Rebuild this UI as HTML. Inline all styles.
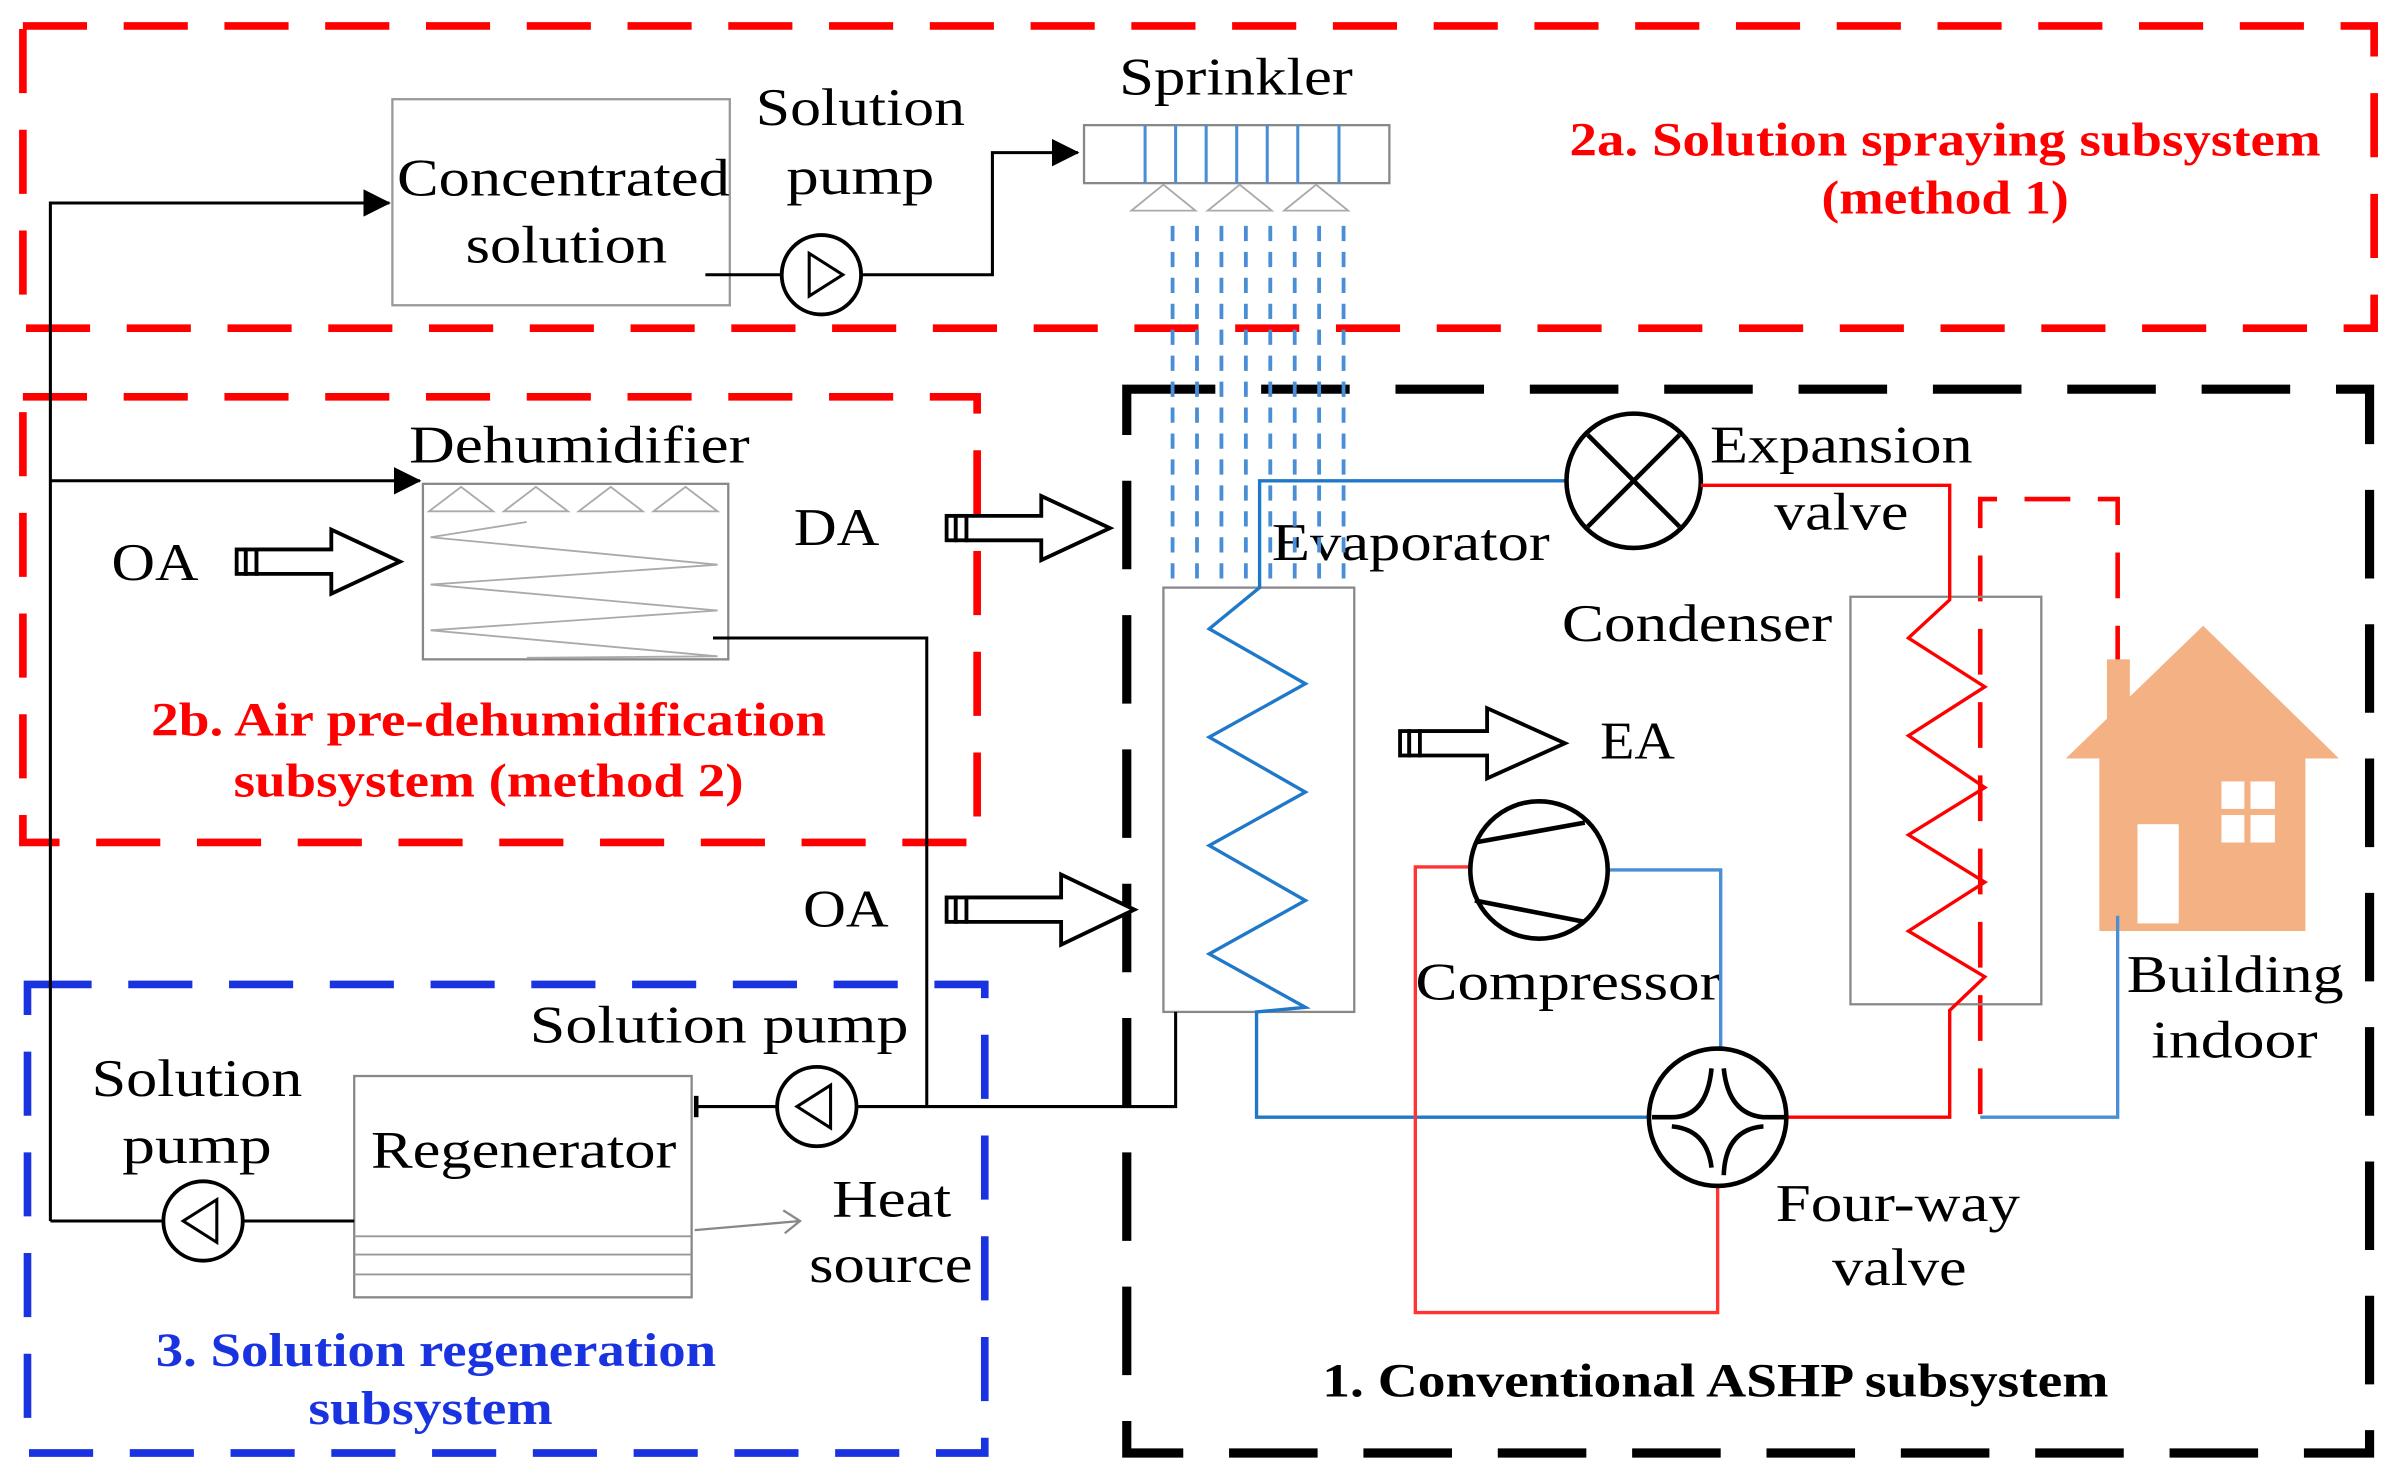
<!DOCTYPE html>
<html><head><meta charset="utf-8"><style>
html,body{margin:0;padding:0;background:#fff;}
svg{display:block;}
text{font-family:"Liberation Serif",serif;}
</style></head><body>
<svg width="2394" height="1482" viewBox="0 0 1568 971" preserveAspectRatio="none" xmlns="http://www.w3.org/2000/svg">
<defs>
<marker id="ah" markerWidth="18" markerHeight="18" refX="17" refY="9" orient="auto" markerUnits="userSpaceOnUse"><path d="M0,0 L18,9 L0,18 Z" fill="#000"/></marker>
</defs>
<rect width="1568" height="971" fill="#fff"/>
<rect x="15" y="17" width="1540" height="198" fill="none" stroke="#f00" stroke-width="5" stroke-dasharray="42,24"/>
<rect x="15" y="260" width="625" height="292" fill="none" stroke="#f00" stroke-width="5" stroke-dasharray="42,24"/>
<rect x="18" y="645" width="627" height="307" fill="none" stroke="#1a33e0" stroke-width="5" stroke-dasharray="42,24"/>
<rect x="738" y="255" width="814" height="697" fill="none" stroke="#000" stroke-width="6" stroke-dasharray="58,30"/>
<path d="M1297,730 L1297,327 L1387,327 L1387,445" fill="none" stroke="#f00" stroke-width="3" stroke-dasharray="30,18"/>
<path d="M33,800 L33,133 L255,133" fill="none" stroke="#000" stroke-width="2" marker-end="url(#ah)"/>
<path d="M33,315 L275,315" fill="none" stroke="#000" stroke-width="2" marker-end="url(#ah)"/>
<rect x="257" y="65" width="221" height="135" fill="none" stroke="#999" stroke-width="1.5"/>
<g font-size="35" lengthAdjust="spacingAndGlyphs">
<text x="260" y="128" textLength="218" lengthAdjust="spacingAndGlyphs">Concentrated</text>
<text x="305" y="172" textLength="132" lengthAdjust="spacingAndGlyphs">solution</text>
<text x="495" y="82" textLength="137" lengthAdjust="spacingAndGlyphs">Solution</text>
<text x="515" y="127" textLength="97" lengthAdjust="spacingAndGlyphs">pump</text>
<text x="733" y="62" textLength="153" lengthAdjust="spacingAndGlyphs">Sprinkler</text>
<text x="268" y="303" textLength="223" lengthAdjust="spacingAndGlyphs">Dehumidifier</text>
<text x="73" y="380" textLength="57" lengthAdjust="spacingAndGlyphs">OA</text>
<text x="520" y="357" textLength="56" lengthAdjust="spacingAndGlyphs">DA</text>
<text x="526" y="607" textLength="56" lengthAdjust="spacingAndGlyphs">OA</text>
<text x="1048" y="497" textLength="49" lengthAdjust="spacingAndGlyphs">EA</text>
<text x="833" y="367" textLength="182" lengthAdjust="spacingAndGlyphs">Evaporator</text>
<text x="1120" y="303" textLength="172" lengthAdjust="spacingAndGlyphs">Expansion</text>
<text x="1162" y="347" textLength="88" lengthAdjust="spacingAndGlyphs">valve</text>
<text x="1023" y="420" textLength="177" lengthAdjust="spacingAndGlyphs">Condenser</text>
<text x="927" y="655" textLength="200" lengthAdjust="spacingAndGlyphs">Compressor</text>
<text x="1163" y="800" textLength="160" lengthAdjust="spacingAndGlyphs">Four-way</text>
<text x="1200" y="842" textLength="88" lengthAdjust="spacingAndGlyphs">valve</text>
<text x="1393" y="650" textLength="142" lengthAdjust="spacingAndGlyphs">Building</text>
<text x="1409" y="693" textLength="109" lengthAdjust="spacingAndGlyphs">indoor</text>
<text x="347" y="683" textLength="248" lengthAdjust="spacingAndGlyphs">Solution pump</text>
<text x="60" y="718" textLength="138" lengthAdjust="spacingAndGlyphs">Solution</text>
<text x="80" y="762" textLength="98" lengthAdjust="spacingAndGlyphs">pump</text>
<text x="243" y="765" textLength="200" lengthAdjust="spacingAndGlyphs">Regenerator</text>
<text x="545" y="797" textLength="78" lengthAdjust="spacingAndGlyphs">Heat</text>
<text x="530" y="840" textLength="107" lengthAdjust="spacingAndGlyphs">source</text>
</g>
<g font-size="31" font-weight="bold">
<text x="1028" y="102" fill="#f00" textLength="492" lengthAdjust="spacingAndGlyphs">2a. Solution spraying subsystem</text>
<text x="1193" y="140" fill="#f00" textLength="162" lengthAdjust="spacingAndGlyphs">(method 1)</text>
<text x="99" y="482" fill="#f00" textLength="442" lengthAdjust="spacingAndGlyphs">2b. Air pre-dehumidification</text>
<text x="153" y="522" fill="#f00" textLength="334" lengthAdjust="spacingAndGlyphs">subsystem (method 2)</text>
<text x="102" y="895" fill="#1a33e0" textLength="367" lengthAdjust="spacingAndGlyphs">3. Solution regeneration</text>
<text x="202" y="933" fill="#1a33e0" textLength="160" lengthAdjust="spacingAndGlyphs">subsystem</text>
<text x="866" y="915" textLength="515" lengthAdjust="spacingAndGlyphs">1. Conventional ASHP subsystem</text>
</g>
<path d="M462,180 L512,180 M564,180 L650,180 L650,100 L706,100" fill="none" stroke="#000" stroke-width="2" marker-end="url(#ah)"/>
<circle cx="538" cy="180" r="26" fill="#fff" stroke="#000" stroke-width="2.5"/>
<path d="M530,166 L552,180 L530,194 Z" fill="none" stroke="#000" stroke-width="2"/>
<rect x="710" y="82" width="200" height="38" fill="none" stroke="#888" stroke-width="1.5"/>
<g stroke="#4a8fd6" stroke-width="2">
<line x1="750" y1="82" x2="750" y2="120"/><line x1="770" y1="82" x2="770" y2="120"/><line x1="790" y1="82" x2="790" y2="120"/><line x1="810" y1="82" x2="810" y2="120"/><line x1="830" y1="82" x2="830" y2="120"/><line x1="850" y1="82" x2="850" y2="120"/><line x1="877" y1="82" x2="877" y2="120"/>
</g>
<g fill="none" stroke="#aaa" stroke-width="1.2">
<path d="M741,138 L762,121 L783,138 Z"/><path d="M791,138 L812,121 L833,138 Z"/><path d="M841,138 L862,121 L883,138 Z"/>
</g>
<g stroke="#4a8fd6" stroke-width="2.5" stroke-dasharray="10,7">
<line x1="768" y1="148" x2="768" y2="385"/><line x1="784" y1="148" x2="784" y2="385"/><line x1="800" y1="148" x2="800" y2="385"/><line x1="816" y1="148" x2="816" y2="385"/><line x1="832" y1="148" x2="832" y2="385"/><line x1="848" y1="148" x2="848" y2="385"/><line x1="864" y1="148" x2="864" y2="385"/><line x1="880" y1="148" x2="880" y2="385"/>
</g>
<rect x="277" y="317" width="200" height="115" fill="#fff" stroke="#888" stroke-width="1.5"/>
<g fill="none" stroke="#aaa" stroke-width="1.2">
<path d="M281,335 L302,319 L323,335 Z"/><path d="M330,335 L351,319 L372,335 Z"/><path d="M379,335 L400,319 L421,335 Z"/><path d="M428,335 L449,319 L470,335 Z"/>
<path d="M345,342 L282,352 L470,370 L282,383 L470,400 L282,413 L470,430 L345,431"/>
</g>
<path d="M467,418 L607,418 L607,725" fill="none" stroke="#000" stroke-width="2"/>
<g fill="#fff" stroke="#000" stroke-width="2.5">
<g transform="translate(155,368)"><rect x="0" y="-8" width="6" height="16"/><rect x="6" y="-8" width="7" height="16"/><path d="M13,-8 L62,-8 L62,-21 L107,0 L62,21 L62,8 L13,8 Z"/></g>
<g transform="translate(620,346)"><rect x="0" y="-8" width="6" height="16"/><rect x="6" y="-8" width="7" height="16"/><path d="M13,-8 L62,-8 L62,-21 L107,0 L62,21 L62,8 L13,8 Z"/></g>
<g transform="translate(620,596)"><rect x="0" y="-8" width="6" height="16"/><rect x="6" y="-8" width="7" height="16"/><path d="M13,-8 L75,-8 L75,-23 L123,0 L75,23 L75,8 L13,8 Z"/></g>
<g transform="translate(917,487)"><rect x="0" y="-8" width="6" height="16"/><rect x="6" y="-8" width="7" height="16"/><path d="M13,-8 L57,-8 L57,-23 L108,0 L57,23 L57,8 L13,8 Z"/></g>
</g>
<rect x="762" y="385" width="125" height="278" fill="none" stroke="#888" stroke-width="1.5"/>
<path d="M1028,315 L825,315 L825,385 L792,412 L855,448 L792,483 L855,519 L792,554 L855,590 L792,625 L855,660 L823,663 L823,732 L1082,732" fill="none" stroke="#1f78c8" stroke-width="2.2"/>
<circle cx="1070" cy="315" r="44" fill="#fff" stroke="#000" stroke-width="3"/>
<path d="M1040,285 L1100,345 M1100,285 L1040,345" stroke="#000" stroke-width="3"/>
<rect x="1212" y="391" width="125" height="267" fill="none" stroke="#888" stroke-width="1.5"/>
<path d="M1114,318 L1277,318 L1277,393 L1250,418 L1300,450 L1250,482 L1300,516 L1250,547 L1300,578 L1250,610 L1300,640 L1277,662 L1277,732 L1170,732" fill="none" stroke="#f00" stroke-width="2.2"/>
<path d="M963,568 L927,568 L927,860 L1125,860 L1125,770" fill="none" stroke="#f33" stroke-width="2.2"/>
<path d="M1053,570 L1127,570 L1127,688" fill="none" stroke="#4a8fd6" stroke-width="2.2"/>
<circle cx="1008" cy="570" r="45" fill="#fff" stroke="#000" stroke-width="3"/>
<path d="M966,552 L1038,539 M966,590 L1038,604" stroke="#000" stroke-width="3"/>
<circle cx="1125" cy="732" r="45" fill="#fff" stroke="#000" stroke-width="3"/>
<path d="M1082,732 L1095,732 Q1118,732 1121,700" fill="none" stroke="#000" stroke-width="3"/>
<path d="M1129,700 Q1132,730 1155,732 L1170,732" fill="none" stroke="#000" stroke-width="3"/>
<path d="M1095,738 Q1118,740 1121,765" fill="none" stroke="#000" stroke-width="3"/>
<path d="M1129,770 Q1130,740 1155,738" fill="none" stroke="#000" stroke-width="3"/>
<g fill="#f4b183">
<rect x="1380" y="432" width="15" height="50"/>
<path d="M1353,497 L1443,410 L1532,497 Z"/>
<rect x="1375" y="495" width="135" height="115"/>
</g>
<rect x="1400" y="540" width="27" height="65" fill="#fff"/>
<rect x="1455" y="512" width="35" height="40" fill="#fff"/>
<path d="M1472,512 L1472,552 M1455,532 L1490,532" stroke="#f4b183" stroke-width="4"/>
<path d="M1387,600 L1387,732 L1297,732" fill="none" stroke="#4a8fd6" stroke-width="2.2"/>
<path d="M770,663 L770,725 L456,725" fill="none" stroke="#000" stroke-width="2"/>
<line x1="456" y1="718" x2="456" y2="732" stroke="#000" stroke-width="3"/>
<circle cx="535" cy="725" r="26" fill="#fff" stroke="#000" stroke-width="2.5"/>
<path d="M544,711 L522,725 L544,739 Z" fill="none" stroke="#000" stroke-width="2"/>
<rect x="232" y="705" width="221" height="145" fill="none" stroke="#888" stroke-width="1.5"/>
<path d="M232,810 L453,810 M232,822 L453,822 M232,835 L453,835" stroke="#999" stroke-width="1.2"/>
<path d="M455,806 L524,800 M513,793 L524,800 L514,808" fill="none" stroke="#888" stroke-width="1.5"/>
<path d="M232,800 L33,800" fill="none" stroke="#000" stroke-width="2"/>
<circle cx="133" cy="800" r="26" fill="#fff" stroke="#000" stroke-width="2.5"/>
<path d="M142,786 L120,800 L142,814 Z" fill="none" stroke="#000" stroke-width="2"/>
</svg>
</body></html>
